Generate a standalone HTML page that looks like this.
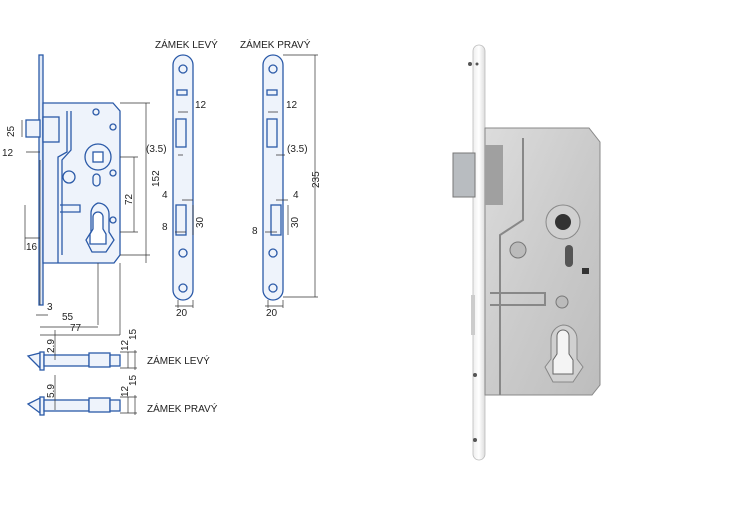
<!DOCTYPE html>
<html><head><style>
html,body{margin:0;padding:0;background:#fff;}
svg{display:block}
text{font-family:"Liberation Sans",sans-serif;fill:#222}
</style></head><body>
<svg width="750" height="517" viewBox="0 0 750 517" xmlns="http://www.w3.org/2000/svg">
<defs>
<linearGradient id="steel" x1="0" x2="1" y1="0" y2="1">
<stop offset="0" stop-color="#dcdcdc"/><stop offset="0.5" stop-color="#cbcbcb"/><stop offset="1" stop-color="#bdbdbd"/>
</linearGradient>
<linearGradient id="fp" x1="0" x2="1">
<stop offset="0" stop-color="#eeeeee"/><stop offset="0.5" stop-color="#ffffff"/><stop offset="1" stop-color="#dcdcdc"/>
</linearGradient>
</defs>

<!-- LEFT LOCK DRAWING -->
<g stroke="#2b5aa8" stroke-width="1.3" fill="#eef3fb">
<rect x="39" y="55" width="4" height="250" fill="#dfe8f6"/>
<path d="M43 103 H113 L120 111 V255 L114 263 H43 Z"/>
<rect x="26" y="120" width="14" height="17"/>
<rect x="43" y="117" width="16" height="25"/>
<path d="M67 111 V152 L58 157 V263" fill="none"/>
<path d="M71 111 V150 L62 160 V255" fill="none"/>
<circle cx="98" cy="157" r="13"/>
<rect x="93" y="152" width="10" height="10" fill="#fff"/>
<circle cx="69" cy="177" r="6"/>
<rect x="93" y="174" width="7" height="12" rx="3.5"/>
<path d="M60 205 H80 V212 H60" fill="none"/>
<path d="M98 203 a11 11 0 0 1 11 11 v18 l5 8 -8 12 h-14 l-6 -12 5 -8 v-18 a11 11 0 0 1 7 -11z"/>
<path d="M98 212 a5 5 0 0 1 5 5 v12 l3 5 v10 h-16 v-10 l3 -5 v-12 a5 5 0 0 1 5 -5z" fill="#fff"/>
<circle cx="113" cy="127" r="3"/><circle cx="113" cy="173" r="3"/><circle cx="113" cy="220" r="3"/>
<circle cx="96" cy="112" r="3"/>
</g>
<g stroke="#333" stroke-width="0.7" fill="none">
<path d="M22 120 V137 M26 152 H40 M40 160 V305 M120 255 H150 M146 103 V263 M120 103 H150 M120 157 H138 M134 157 V232 M120 232 H138 M25 205 V250 M25 238 H40 M98 263 V325 M120 263 V335 M36 315 H48 M40 327 H98 M40 335 H120"/>
</g>
<g font-size="10">
<text x="14" y="137" transform="rotate(-90 14 137)" font-size="10">25</text>
<text x="2" y="156">12</text>
<text x="159" y="187" transform="rotate(-90 159 187)">152</text>
<text x="132" y="205" transform="rotate(-90 132 205)">72</text>
<text x="26" y="250">16</text>
<text x="47" y="310">3</text>
<text x="62" y="320">55</text>
<text x="70" y="331">77</text>
</g>

<!-- STRIKE PLATES -->
<g stroke="#2b5aa8" stroke-width="1.3" fill="#eef3fb">
<rect x="173" y="55" width="20" height="245" rx="10"/>
<rect x="263" y="55" width="20" height="245" rx="10"/>
<circle cx="183" cy="69" r="4"/><circle cx="183" cy="288" r="4"/><circle cx="183" cy="253" r="4"/>
<circle cx="273" cy="69" r="4"/><circle cx="273" cy="288" r="4"/><circle cx="273" cy="253" r="4"/>
<rect x="177" y="90" width="10" height="5"/><rect x="267" y="90" width="10" height="5"/>
<rect x="176" y="119" width="10" height="28"/><rect x="267" y="119" width="10" height="28"/>
<rect x="176" y="205" width="10" height="30"/><rect x="271" y="205" width="10" height="30"/>
</g>
<g stroke="#333" stroke-width="0.7" fill="none">
<path d="M178 112 H188 M178 155 H183 M182 200 H193 M175 232 H186 M193 205 V235 M178 300 V308 M193 300 V308 M175 306 H193"/>
<path d="M268 112 H278 M276 155 H285 M276 200 H288 M265 232 H277 M288 205 V235 M283 55 H318 M283 297 H318 M315 55 V297 M268 300 V308 M283 300 V308 M265 306 H283"/>
</g>
<g font-size="10">
<text x="155" y="48">ZÁMEK LEVÝ</text>
<text x="240" y="48">ZÁMEK PRAVÝ</text>
<text x="195" y="108">12</text><text x="286" y="108">12</text>
<text x="146" y="152">(3.5)</text><text x="287" y="152">(3.5)</text>
<text x="162" y="198">4</text><text x="293" y="198">4</text>
<text x="162" y="230">8</text><text x="252" y="234">8</text>
<text x="203" y="228" transform="rotate(-90 203 228)">30</text>
<text x="298" y="228" transform="rotate(-90 298 228)">30</text>
<text x="176" y="316">20</text><text x="266" y="316">20</text>
<text x="319" y="188" transform="rotate(-90 319 188)">235</text>
</g>

<!-- PROFILES -->
<g stroke="#2b5aa8" stroke-width="1.3" fill="#eef3fb">
<path d="M28 356 L40 353 V368 Z"/><rect x="40" y="352" width="4" height="18"/>
<rect x="44" y="355" width="45" height="11"/><rect x="89" y="353" width="21" height="14"/><rect x="110" y="355" width="10" height="11"/>
<path d="M28 404 L40 398 V413 Z"/><rect x="40" y="397" width="4" height="18"/>
<rect x="44" y="400" width="45" height="11"/><rect x="89" y="398" width="21" height="14"/><rect x="110" y="400" width="10" height="11"/>
</g>
<g stroke="#333" stroke-width="0.7" fill="none">
<path d="M55 330 V360 M55 375 V410 M128 352 V368 M135 350 V370 M120 352 H137 M120 368 H137 M128 397 V413 M135 395 V415 M120 397 H137 M120 413 H137"/>
</g>
<g font-size="10">
<text x="54" y="353" transform="rotate(-90 54 353)">2.9</text>
<text x="54" y="398" transform="rotate(-90 54 398)">5.9</text>
<text x="128" y="351" transform="rotate(-90 128 351)">12</text>
<text x="136" y="340" transform="rotate(-90 136 340)">15</text>
<text x="128" y="397" transform="rotate(-90 128 397)">12</text>
<text x="136" y="386" transform="rotate(-90 136 386)">15</text>
<text x="147" y="364">ZÁMEK LEVÝ</text>
<text x="147" y="412">ZÁMEK PRAVÝ</text>
</g>

<!-- PHOTO -->
<g>
<rect x="473" y="45" width="12" height="415" rx="6" fill="url(#fp)" stroke="#bbb" stroke-width="0.8"/>
<path d="M485 128 H589 L600 142 V385 L592 395 H485 Z" fill="url(#steel)" stroke="#888" stroke-width="1"/>
<rect x="453" y="153" width="22" height="44" fill="#b8bcc0" stroke="#777"/>
<rect x="485" y="145" width="18" height="60" fill="#a0a0a0"/>
<path d="M523 138 V220 L500 235 V395" fill="none" stroke="#888" stroke-width="2"/>
<circle cx="563" cy="222" r="17" fill="#d0d0d0" stroke="#888"/>
<circle cx="563" cy="222" r="8" fill="#333"/>
<circle cx="518" cy="250" r="8" fill="#bbb" stroke="#777"/>
<rect x="565" y="245" width="8" height="22" rx="4" fill="#555"/>
<rect x="582" y="268" width="7" height="6" fill="#333"/>
<path d="M490 293 H545 V305 H490" fill="none" stroke="#888" stroke-width="2"/>
<circle cx="562" cy="302" r="6" fill="#bbb" stroke="#777"/>
<path d="M563 325 a14 14 0 0 1 14 14 v20 l6 8 -10 15 h-20 l-8 -15 6 -8 v-20 a14 14 0 0 1 12 -14z" fill="#d0d0d0" stroke="#888"/>
<path d="M563 330 a6 6 0 0 1 6 6 v18 l4 6 v14 h-20 v-14 l4 -6 v-18 a6 6 0 0 1 6 -6z" fill="#f4f4f4" stroke="#666"/>
<circle cx="470" cy="64" r="2" fill="#555"/><circle cx="477" cy="64" r="1.5" fill="#555"/>
<circle cx="475" cy="375" r="2" fill="#555"/><circle cx="475" cy="440" r="2" fill="#555"/>
<rect x="471" y="295" width="4" height="40" fill="#ccc"/>
</g>
</svg>
</body></html>
